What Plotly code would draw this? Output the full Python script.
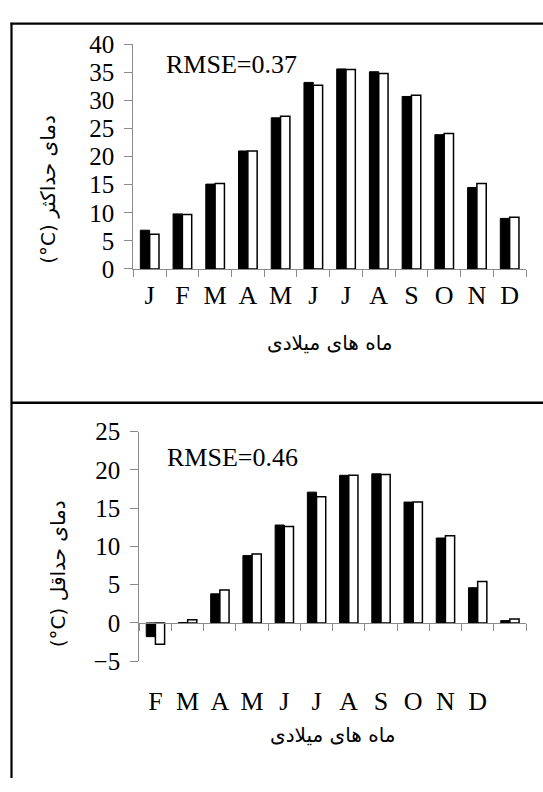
import plotly.graph_objects as go

# ---- data ----
idx = list(range(12))
months_top = ["J", "F", "M", "A", "M", "J", "J", "A", "S", "O", "N", "D"]
months_bottom = ["F", "M", "A", "M", "J", "J", "A", "S", "O", "N", "D", ""]
tmax_obs = [6.9, 9.8, 15.1, 21.0, 26.9, 33.2, 35.6, 35.1, 30.7, 23.9, 14.5, 9.0]
tmax_sim = [6.2, 9.7, 15.2, 21.0, 27.2, 32.7, 35.5, 34.8, 30.9, 24.1, 15.2, 9.2]
tmin_obs = [-1.8, 0.05, 3.8, 8.8, 12.8, 17.1, 19.3, 19.5, 15.8, 11.1, 4.6, 0.3]
tmin_sim = [-2.8, 0.4, 4.3, 9.0, 12.6, 16.5, 19.3, 19.4, 15.8, 11.4, 5.4, 0.5]
boundaries = [i - 0.5 for i in range(13)]
rmse_top = "RMSE=0.37"
rmse_bottom = "RMSE=0.46"
ytitle_top = "(°C) دمای حداکثر"
ytitle_bottom = "(°C) دمای حداقل"
xtitle = "ماه های میلادی"

W, H = 543, 792
SERIF = "Liberation Serif"
PERSIAN = "DejaVu Sans"
AX = "#8a8a8a"

def px(x):
    return x / W

def py(y):
    return 1 - y / H

fig = go.Figure()
blk = dict(color="black", line=dict(color="black", width=1))
wht = dict(color="white", line=dict(color="black", width=1.5))
fig.add_trace(go.Bar(x=idx, y=tmax_obs, marker=blk, xaxis="x", yaxis="y", showlegend=False))
fig.add_trace(go.Bar(x=idx, y=tmax_sim, marker=wht, xaxis="x", yaxis="y", showlegend=False))
fig.add_trace(go.Bar(x=idx, y=tmin_obs, marker=blk, xaxis="x2", yaxis="y2", showlegend=False))
fig.add_trace(go.Bar(x=idx, y=tmin_sim, marker=wht, xaxis="x2", yaxis="y2", showlegend=False))
# invisible traces so label axes exist
fig.add_trace(go.Scatter(x=idx, y=[None] * 12, xaxis="x3", yaxis="y", showlegend=False, hoverinfo="skip"))
fig.add_trace(go.Scatter(x=idx, y=[None] * 12, xaxis="x4", yaxis="y2", showlegend=False, hoverinfo="skip"))

xd_top = [px(133.3), px(526)]
xd_bot = [px(139.3), px(526)]
yd_top = [py(265), py(32.3)]
yd_bot = [py(671), py(433.5)]
zero_bot = py(631.4)

tick_axis = dict(range=[-0.5, 11.5], showline=True, linecolor=AX, linewidth=1.3,
                 ticks="outside", ticklen=7, tickcolor=AX, tickwidth=1.3,
                 tickmode="array", tickvals=boundaries, showticklabels=False,
                 showgrid=False, zeroline=False, fixedrange=True)
label_axis = dict(range=[-0.5, 11.5], showline=False, ticks="", tickmode="array",
                  tickvals=idx, showgrid=False, zeroline=False,
                  tickfont=dict(family=SERIF, size=26, color="black"))
yax = dict(showline=True, linecolor=AX, linewidth=1.3, ticks="outside", ticklen=8,
           tickcolor=AX, tickwidth=1.3, dtick=5, showgrid=False, zeroline=False,
           tickfont=dict(family=SERIF, size=25, color="black"), ticklabelstandoff=5)

fig.update_layout(
    width=W, height=H, margin=dict(l=0, r=0, t=0, b=0),
    paper_bgcolor="white", plot_bgcolor="rgba(0,0,0,0)",
    barmode="group", bargap=0.43, bargroupgap=0,
    xaxis=dict(domain=xd_top, anchor="y", **tick_axis),
    xaxis3=dict(domain=xd_top, anchor="y", overlaying="x", ticktext=months_top,
                ticklabelstandoff=8, **label_axis),
    xaxis2=dict(domain=xd_bot, anchor="free", position=zero_bot, **tick_axis),
    xaxis4=dict(domain=xd_bot, anchor="y2", overlaying="x2", ticktext=months_bottom,
                ticklabelstandoff=22, **label_axis),
    yaxis=dict(domain=yd_top, anchor="x", range=[0, 40], **yax),
    yaxis2=dict(domain=yd_bot, anchor="x2", range=[-5, 25], **yax),
    annotations=[
        dict(text=rmse_top, x=px(164), y=py(53), xref="paper", yref="paper",
             xanchor="left", yanchor="middle", showarrow=False,
             font=dict(family=SERIF, size=26, color="black")),
        dict(text=rmse_bottom, x=px(165), y=py(460), xref="paper", yref="paper",
             xanchor="left", yanchor="middle", showarrow=False,
             font=dict(family=SERIF, size=26, color="black")),
        dict(text=ytitle_top, x=px(48), y=py(183), xref="paper", yref="paper",
             xanchor="center", yanchor="middle", showarrow=False, textangle=-90,
             font=dict(family=PERSIAN, size=20, color="black")),
        dict(text=ytitle_bottom, x=px(58), y=py(581), xref="paper", yref="paper",
             xanchor="center", yanchor="middle", showarrow=False, textangle=-90,
             font=dict(family=PERSIAN, size=20, color="black")),
        dict(text=xtitle, x=px(330), y=py(342), xref="paper", yref="paper",
             xanchor="center", yanchor="middle", showarrow=False,
             font=dict(family=PERSIAN, size=20, color="black")),
        dict(text=xtitle, x=px(333), y=py(747), xref="paper", yref="paper",
             xanchor="center", yanchor="middle", showarrow=False,
             font=dict(family=PERSIAN, size=20, color="black")),
    ],
    shapes=[
        dict(type="line", xref="paper", yref="paper", x0=px(11.5), x1=px(11.5),
             y0=py(10), y1=0, line=dict(color="black", width=2.2)),
        dict(type="line", xref="paper", yref="paper", x0=px(10.5), x1=1,
             y0=py(11), y1=py(11), line=dict(color="black", width=2.2)),
        dict(type="line", xref="paper", yref="paper", x0=px(11.5), x1=1,
             y0=py(403.5), y1=py(403.5), line=dict(color="black", width=2.4)),
    ],
)

fig.write_html("out.html")
